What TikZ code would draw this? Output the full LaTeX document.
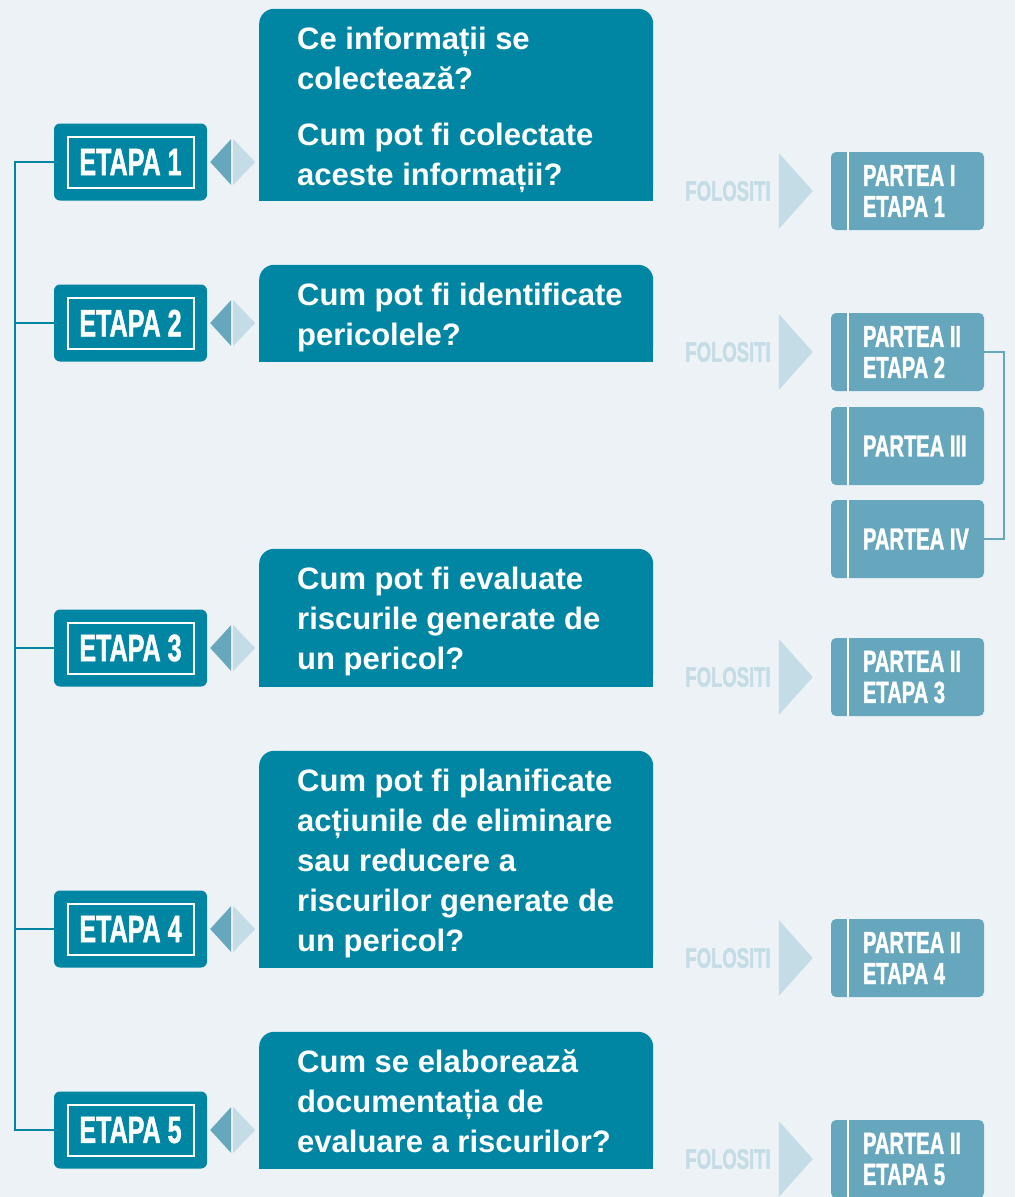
\documentclass[tikz,border=0pt]{standalone}
\usepackage{fontspec}
\setmainfont{Liberation Sans}
\newfontfamily\narrowfont{Liberation Sans}[FakeStretch=0.66, FakeBold=1.2]
\usetikzlibrary{calc}
\definecolor{pagebg}{HTML}{EDF2F7}
\definecolor{etapacol}{HTML}{0086A3}
\definecolor{partcol}{HTML}{67A7BD}
\definecolor{palecol}{HTML}{C4DCE6}
\newcommand{\qstrut}{\rule{0pt}{41pt}}
\tikzset{
  etapabox/.style={fill=etapacol, rounded corners=6pt, minimum width=153pt, minimum height=77pt, inner sep=0pt},
  etapalabel/.style={draw=white, line width=2pt, minimum width=126pt, minimum height=51pt, inner sep=0pt,
    text=white, font=\narrowfont\bfseries\fontsize{38}{38}\selectfont},
  qbox/.style={fill=etapacol, rounded corners=15pt, minimum width=394pt, inner sep=0pt, anchor=south west},
  qtext/.style={text=white, align=left, anchor=north west, inner sep=0pt, font=\bfseries\fontsize{31}{40}\selectfont},
  partbox/.style={fill=partcol, rounded corners=5pt, minimum width=153pt, minimum height=78pt, inner sep=0pt},
  parttext/.style={text=white, align=left, anchor=west, inner sep=0pt, font=\narrowfont\bfseries\fontsize{30.5}{31}\selectfont},
  usetext/.style={text=palecol, inner sep=0pt, anchor=east, font=\narrowfont\bfseries\fontsize{28}{28}\selectfont},
  link/.style={draw=etapacol, line width=2pt},
  bracket/.style={draw=partcol, line width=2pt},
}

\begin{document}
\begin{tikzpicture}[x=1pt,y=-1pt]
        \fill[pagebg] (0,0) rectangle (1015,1197);
        \useasboundingbox (0,0) rectangle (1015,1197);
        % steps and questions
        \foreach \i/\y/\qt/\q in {1/162/9/{Ce informații se\\colectează?\\[16pt]Cum pot fi colectate\\aceste informații?},
                2/323/265/{Cum pot fi identificate\\pericolele?},
                3/648/549/{Cum pot fi evaluate\\riscurile generate de\\un pericol?},
                4/929/751/{Cum pot fi planificate\\acțiunile de eliminare\\sau reducere a\\riscurilor generate de\\un pericol?},
                5/1130/1032/{Cum se elaborează\\documentația de\\evaluare a riscurilor?}} {
            \node[etapabox] (e\i) at (130.5,\y) {};
            \node[etapalabel] (l\i) at (e\i) {ETAPA \i};
            \fill[partcol] ([xshift=3pt]e\i.east) -- ([xshift=24pt,yshift=23pt]e\i.east) -- ([xshift=24pt,yshift=-23pt]e\i.east) -- cycle;
            \fill[palecol] ([xshift=48pt]e\i.east) -- ([xshift=26pt,yshift=23pt]e\i.east) -- ([xshift=26pt,yshift=-23pt]e\i.east) -- cycle;
            \node[qbox, minimum height={\y+39-\qt}] (q\i) at (259,\y+39) {};
            \fill[etapacol] (q\i.west) rectangle (q\i.south east);
            \node[qtext] (t\i) at ([xshift=38pt]q\i.north west) {\qstrut\q};
        }
        % parts of the guide
        \foreach \j/\y/\p in {1/191/{PARTEA I\\ETAPA 1}, 2/352/{PARTEA II\\ETAPA 2}, 3/446/{PARTEA III},
                4/539/{PARTEA IV}, 5/677/{PARTEA II\\ETAPA 3}, 6/958/{PARTEA II\\ETAPA 4}, 7/1159/{PARTEA II\\ETAPA 5}} {
            \node[partbox] (p\j) at (907.5,\y) {};
            \draw[white, line width=2.5pt] ([xshift=17pt]p\j.north west) -- ([xshift=17pt]p\j.south west);
            \node[parttext] (pt\j) at ([xshift=32pt]p\j.west) {\p};
        }
        \foreach \j in {1,2,5,6,7} {
            \node[usetext] (u\j) at ([xshift=-60pt]p\j.west) {FOLOSITI};
            \fill[palecol] ([xshift=-52pt,yshift=38pt]p\j.west) -- ([xshift=-18pt]p\j.west) -- ([xshift=-52pt,yshift=-38pt]p\j.west) -- cycle;
        }
        % connectors
        \coordinate (s1) at ([xshift=-39pt]e1.west);
        \coordinate (s5) at ([xshift=-39pt]e5.west);
        \draw[link] (e1.west) -- (s1) -- (s5) -- (e5.west);
        \foreach \i in {2,3,4} {
            \draw[link] (e\i.west) -- (e\i.west -| s1);
        }
        \draw[bracket] (p2.east) -- ++(20,0) |- (p4.east);
    \end{tikzpicture}
\end{document}
